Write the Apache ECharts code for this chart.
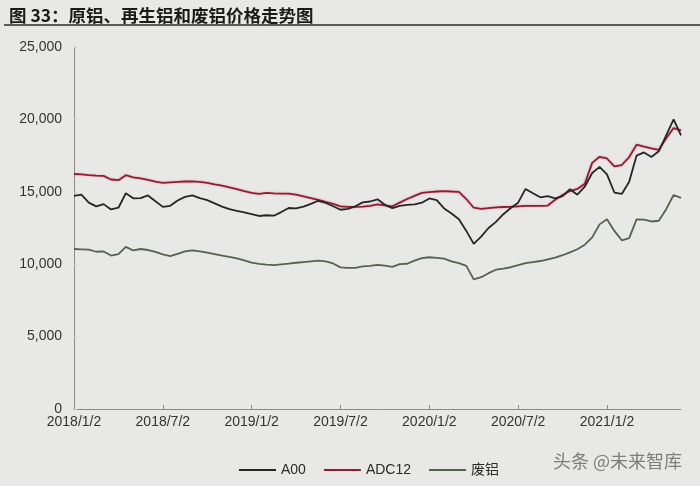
<!DOCTYPE html>
<html>
<head>
<meta charset="utf-8">
<script src="https://cdn.jsdelivr.net/npm/echarts@6/dist/echarts.min.js"></script>
<style>
html,body{margin:0;padding:0;background:#e8e8e6;}
#c{width:700px;height:486px;}
</style>
</head>
<body>
<div id="c"></div>
<script>
var titleText = '图 33：原铝、再生铝和废铝价格走势图';
var watermark = '头条 @未来智库';
var seriesNames = ['A00', 'ADC12', '废铝'];
var tickLabels = ['2018/1/2','2018/7/2','2019/1/2','2019/7/2','2020/1/2','2020/7/2','2021/1/2'];
var dates = [
'2018/1/2','2018/1/17','2018/2/2','2018/2/17','2018/3/2','2018/3/17','2018/4/2','2018/4/17','2018/5/2','2018/5/17','2018/6/2','2018/6/17',
'2018/7/2','2018/7/17','2018/8/2','2018/8/17','2018/9/2','2018/9/17','2018/10/2','2018/10/17','2018/11/2','2018/11/17','2018/12/2','2018/12/17',
'2019/1/2','2019/1/17','2019/2/2','2019/2/17','2019/3/2','2019/3/17','2019/4/2','2019/4/17','2019/5/2','2019/5/17','2019/6/2','2019/6/17',
'2019/7/2','2019/7/17','2019/8/2','2019/8/17','2019/9/2','2019/9/17','2019/10/2','2019/10/17','2019/11/2','2019/11/17','2019/12/2','2019/12/17',
'2020/1/2','2020/1/17','2020/2/2','2020/2/17','2020/3/2','2020/3/17','2020/4/2','2020/4/17','2020/5/2','2020/5/17','2020/6/2','2020/6/17',
'2020/7/2','2020/7/17','2020/8/2','2020/8/17','2020/9/2','2020/9/17','2020/10/2','2020/10/17','2020/11/2','2020/11/17','2020/12/2','2020/12/17',
'2021/1/2','2021/1/17','2021/2/2','2021/2/17','2021/3/2','2021/3/17','2021/4/2','2021/4/17','2021/5/2','2021/5/17','2021/6/2'
];
var a00 = [
14720,14800,14250,13990,14150,13780,13900,14900,14550,14560,14750,14350,
13960,14030,14400,14650,14750,14560,14420,14200,13980,13800,13680,13580,
13460,13330,13380,13350,13600,13880,13850,13980,14170,14380,14230,14000,
13760,13820,14000,14270,14330,14480,14100,13870,14030,14100,14130,14250,
14540,14420,13850,13500,13100,12300,11400,11900,12500,12920,13450,13880,
14250,15200,14900,14620,14700,14550,14700,15180,14800,15350,16300,16720,
16200,14950,14850,15700,17500,17720,17400,17800,18900,20000,18900
];
var adc12 = [
16230,16200,16150,16120,16100,15850,15800,16150,16000,15920,15830,15700,
15620,15650,15680,15710,15720,15680,15620,15520,15430,15310,15190,15050,
14930,14860,14920,14890,14880,14880,14800,14680,14560,14440,14300,14160,
14000,13960,13960,13970,14030,14130,14060,14000,14250,14500,14720,14920,
14980,15020,15050,15020,15000,14500,13900,13820,13870,13920,13950,13960,
14000,14030,14030,14030,14050,14450,14780,15050,15200,15550,17000,17420,
17300,16750,16850,17400,18250,18120,18000,17900,18700,19400,19240
];
var scrap = [
11050,11030,11000,10860,10880,10600,10700,11200,10950,11050,10980,10850,
10680,10560,10720,10880,10950,10880,10800,10700,10600,10500,10400,10260,
10110,10020,9970,9930,9990,10040,10100,10150,10200,10240,10200,10050,
9780,9740,9740,9850,9880,9950,9900,9820,10000,10030,10250,10420,
10480,10430,10380,10200,10080,9880,8950,9100,9380,9620,9700,9790,
9930,10080,10150,10220,10330,10460,10620,10820,11030,11350,11850,12750,
13100,12300,11650,11800,13100,13080,12950,13000,13800,14780,14580
];

var FONT = '"Liberation Sans", Arial, "Noto Sans CJK SC", sans-serif';
var chart = echarts.init(document.getElementById('c'), null, {renderer: 'canvas'});
function isTick(idx, val) { return tickLabels.indexOf(val) >= 0; }
var option = {
  backgroundColor: '#e8e8e6',
  animation: false,
  title: {
    text: titleText, left: 4, top: 2,
    textStyle: {fontFamily: '"Noto Sans CJK SC", sans-serif', fontSize: 17.5, fontWeight: 'bold', color: '#1a1a1a'}
  },
  graphic: [
    {type: 'line', shape: {x1: 4, y1: 25, x2: 700, y2: 25}, style: {stroke: '#2a2a2a', lineWidth: 1.6}},
    {type: 'text', left: 553, top: 452, style: {text: watermark, fill: '#6a6a6a', font: '18px "Noto Sans CJK SC", sans-serif', opacity: 0.85}}
  ],
  legend: {
    data: seriesNames, left: 234, top: 458,
    icon: 'rect', itemWidth: 37, itemHeight: 2, itemGap: 18,
    textStyle: {fontFamily: FONT, fontSize: 14, color: '#2a2a2a'}
  },
  grid: {left: 74, right: 19, top: 47, bottom: 77, containLabel: false},
  xAxis: {
    type: 'category', data: dates, boundaryGap: false,
    axisLine: {lineStyle: {color: '#8a8a8a', width: 1}},
    axisTick: {show: true, inside: true, length: 4, interval: isTick, lineStyle: {color: '#8a8a8a'}},
    axisLabel: {interval: isTick, margin: 6, fontFamily: FONT, fontSize: 14, color: '#333'},
    splitLine: {show: false}
  },
  yAxis: {
    type: 'value', min: 0, max: 25000, interval: 5000,
    axisLine: {show: true, lineStyle: {color: '#8a8a8a', width: 1}},
    axisTick: {show: true, inside: true, length: 3, lineStyle: {color: '#c8c8c8'}},
    axisLabel: {margin: 12, fontFamily: FONT, fontSize: 14, color: '#333',
      formatter: function (v) { return String(v).replace(/\B(?=(\d{3})+(?!\d))/g, ','); }},
    splitLine: {show: false}
  },
  series: [
    {name: seriesNames[0], type: 'line', data: a00, symbol: 'none', lineStyle: {color: '#262626', width: 1.8}, itemStyle: {color: '#262626'}, z: 3},
    {name: seriesNames[1], type: 'line', data: adc12, symbol: 'none', lineStyle: {color: '#8e1f33', width: 1.8, shadowColor: 'rgba(220,80,100,0.5)', shadowBlur: 2}, itemStyle: {color: '#8e1f33'}, z: 2},
    {name: seriesNames[2], type: 'line', data: scrap, symbol: 'none', lineStyle: {color: '#56624c', width: 1.8}, itemStyle: {color: '#56624c'}, z: 1}
  ]
};
chart.setOption(option);
</script>
</body>
</html>
